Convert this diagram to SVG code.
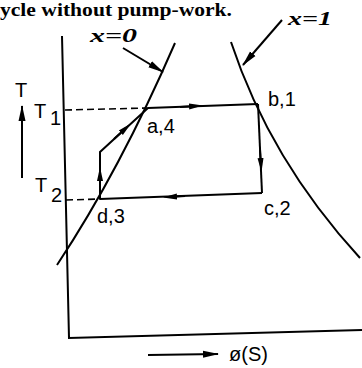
<svg xmlns="http://www.w3.org/2000/svg" width="362" height="368" viewBox="0 0 362 368">
<style>
.ln{fill:none;stroke:#000;stroke-width:2}
.dash{fill:none;stroke:#000;stroke-width:1.6;stroke-dasharray:7,4}
.lab{font-family:"Liberation Sans",Arial,sans-serif;font-size:20px;fill:#000}
.q{font-family:"Liberation Serif","Times New Roman",serif;font-size:19px;font-weight:bold;font-style:italic;fill:#000}
</style>
<defs>
<marker id="ah" markerWidth="16" markerHeight="8" refX="15" refY="4" orient="auto" markerUnits="userSpaceOnUse">
<path d="M0,0.5 L16,4 L0,7.5 z" fill="#000"/>
</marker>
<marker id="mid" markerWidth="14" markerHeight="8" refX="7" refY="4" orient="auto" markerUnits="userSpaceOnUse">
<path d="M0,1 L14,4 L0,7 z" fill="#000"/>
</marker>
</defs>
<rect width="362" height="368" fill="#fff"/>
<text x="0" y="16" font-family="Liberation Serif,serif" font-size="18" font-weight="bold" textLength="232" lengthAdjust="spacingAndGlyphs">ycle without pump-work.</text>

<g id="axes">
<path class="ln" d="M62,36 L69,338 L362,330"/>
</g>

<g id="sat-liquid">
<path class="ln" d="M175,43 Q120,170 57,265"/>
<text class="q" x="90" y="42" textLength="47" lengthAdjust="spacingAndGlyphs">x=0</text>
<path class="ln" d="M123,48 L163,72" marker-end="url(#ah)"/>
</g>

<g id="sat-vapour">
<path class="ln" d="M231,42 Q270,160 360,258"/>
<text class="q" x="288" y="25" textLength="44" lengthAdjust="spacingAndGlyphs">x=1</text>
<path class="ln" d="M282,20 L243,65" marker-end="url(#ah)"/>
</g>

<g id="connectors">
<path class="dash" d="M65,110 L148,108"/>
<path class="dash" d="M66,200 L100,199"/>
<path class="ln" d="M148,108 L258,104"/>
<path class="ln" d="M180,107 L196,106" marker-end="url(#mid)"/>
<path class="ln" d="M258,104 L262,193"/>
<path class="ln" d="M260,150 L261,165" marker-end="url(#mid)"/>
<path class="ln" d="M262,193 L100,199"/>
<path class="ln" d="M185,196 L170,197" marker-end="url(#mid)"/>
<path class="ln" d="M100,199 L100,152 L148,108"/>
<path class="ln" d="M100,186 L100,174" marker-end="url(#mid)"/>
<path class="ln" d="M114,139 L126,128" marker-end="url(#mid)"/>
</g>

<g id="node-a4"><text class="lab" x="147" y="133">a,4</text></g>
<g id="node-b1"><text class="lab" x="268" y="106">b,1</text></g>
<g id="node-c2"><text class="lab" x="264" y="215">c,2</text></g>
<g id="node-d3"><text class="lab" x="97" y="223">d,3</text></g>

<g id="T-axis">
<text class="lab" x="15" y="97">T</text>
<path class="ln" d="M22,178 L22,106" marker-end="url(#ah)"/>
<text class="lab" x="34" y="118">T</text>
<text class="lab" x="50" y="125" font-size="15">1</text>
<text class="lab" x="35" y="192">T</text>
<text class="lab" x="51" y="202" font-size="16">2</text>
</g>

<g id="S-axis">
<path class="ln" d="M148,355 L218,354" marker-end="url(#ah)"/>
<text class="lab" x="229" y="361">ø(S)</text>
</g>
</svg>
